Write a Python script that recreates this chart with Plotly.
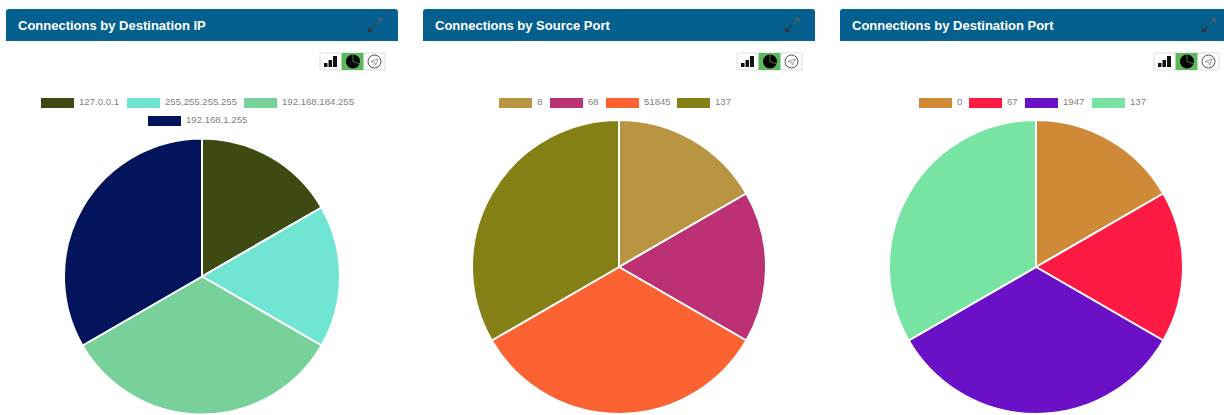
import plotly.graph_objects as go

W, H = 1224, 415

# Panel titles and slice data
titles = ["Connections by Destination IP", "Connections by Source Port", "Connections by Destination Port"]
labels_dst_ip = ["127.0.0.1", "255.255.255.255", "192.168.184.255", "192.168.1.255"]
labels_src_port = ["8", "68", "51845", "137"]
labels_dst_port = ["0", "67", "1947", "137"]
values_dst_ip = [1, 1, 2, 2]
values_src_port = [1, 1, 2, 2]
values_dst_port = [1, 1, 2, 2]
colors_dst_ip = ["#3d4a12", "#70e5d3", "#78d199", "#04145c"]
colors_src_port = ["#b99541", "#bc3074", "#fd6232", "#858016"]
colors_dst_port = ["#cf8a37", "#ff1a44", "#6a10c7", "#77e4a3"]

# Panel geometry in pixels
panels = [
    dict(left=6, right=398, cx=202, cy=276.5, r=138, tool=320,
         swatches=[(41, 98), (127, 98), (244, 98), (148, 116)]),
    dict(left=423, right=815, cx=619, cy=267, r=147, tool=737,
         swatches=[(499, 98), (550, 98), (606, 98), (677, 98)]),
    dict(left=840, right=1230, cx=1036, cy=267, r=147, tool=1154,
         swatches=[(919, 98), (969, 98), (1025, 98), (1092, 98)]),
]
series = [
    (labels_dst_ip, values_dst_ip, colors_dst_ip),
    (labels_src_port, values_src_port, colors_src_port),
    (labels_dst_port, values_dst_port, colors_dst_port),
]


def px(x):
    return x / W


def py(y):
    return 1 - y / H


def pt(x, y):
    return f"{px(x):.5f},{py(y):.5f}"


def rect(x0, y0, x1, y1, fill, line=None, width=0):
    return dict(type="rect", xref="paper", yref="paper", layer="below",
                x0=px(x0), x1=px(x1), y0=py(y1), y1=py(y0),
                fillcolor=fill, line=dict(color=line or fill, width=width))


def circle(cx, cy, r, fill, line=None, width=0):
    return dict(type="circle", xref="paper", yref="paper", layer="above",
                x0=px(cx - r), x1=px(cx + r), y0=py(cy + r), y1=py(cy - r),
                fillcolor=fill, line=dict(color=line or fill, width=width))


def path(points, fill="rgba(0,0,0,0)", line="#000", width=1, close=False):
    d = "M " + " L ".join(pt(x, y) for x, y in points)
    if close:
        d += " Z"
    return dict(type="path", xref="paper", yref="paper", layer="above", path=d,
                fillcolor=fill, line=dict(color=line, width=width))


def header(x0, y0, x1, y1, radius, fill):
    # Bar with rounded top corners
    d = (f"M {pt(x0, y1)} L {pt(x0, y0 + radius)} Q {pt(x0, y0)} {pt(x0 + radius, y0)} "
         f"L {pt(x1 - radius, y0)} Q {pt(x1, y0)} {pt(x1, y0 + radius)} L {pt(x1, y1)} Z")
    return dict(type="path", xref="paper", yref="paper", layer="below", path=d,
                fillcolor=fill, line=dict(color=fill, width=0))


fig = go.Figure()
shapes, notes = [], []

for title, panel, (labels, values, colors) in zip(titles, panels, series):
    cx, cy, r = panel["cx"], panel["cy"], panel["r"]
    fig.add_trace(go.Pie(
        labels=labels, values=values, sort=False, direction="clockwise", rotation=0,
        marker=dict(colors=colors, line=dict(color="#ffffff", width=2)),
        textinfo="none", hoverinfo="label+value", showlegend=False, automargin=False,
        domain=dict(x=[px(cx - r), px(cx + r)], y=[max(py(cy + r), 0), py(cy - r)]),
    ))

    # Header bar with title and expand arrows
    left, right = panel["left"], panel["right"]
    shapes.append(header(left, 9, right, 41, 3, "#05608f"))
    notes.append(dict(text=f"<b>{title}</b>", x=px(left + 11), y=py(25.5), xref="paper", yref="paper",
                      xanchor="left", yanchor="middle", showarrow=False, borderpad=0,
                      font=dict(family="Liberation Sans", size=13, color="#ffffff")))
    ax = left + 362
    shapes.append(path([(ax + 1, 31), (ax + 7, 25)], line="#2b3a44", width=1.5))
    shapes.append(path([(ax, 32), (ax + 5, 32), (ax, 27)], fill="#2b3a44", line="#2b3a44", width=0.5, close=True))
    shapes.append(path([(ax + 8, 24), (ax + 13, 19)], line="#45606f", width=1.5))
    shapes.append(path([(ax + 14, 18), (ax + 9, 18), (ax + 14, 23)], fill="#45606f", line="#45606f", width=0.5, close=True))

    # Chart-type button group
    t = panel["tool"]
    shapes.append(rect(t, 53, t + 65, 70, "#ffffff", "#dddddd", 1))
    shapes.append(rect(t + 21.5, 53, t + 43.5, 70, "#5cb85c"))
    shapes.append(rect(t + 4, 63, t + 7.5, 67, "#111111"))
    shapes.append(rect(t + 8.5, 60, t + 12, 67, "#111111"))
    shapes.append(rect(t + 13, 56, t + 17, 67, "#111111"))
    shapes.append(circle(t + 33, 61.5, 7, "#000000"))
    shapes.append(path([(t + 33, 61.5), (t + 33, 54)], line="#5cb85c", width=0.7))
    shapes.append(path([(t + 33, 61.5), (t + 40, 64)], line="#5cb85c", width=0.7))
    shapes.append(circle(t + 54.5, 61.5, 6.5, "#ffffff", "#555555", 1))
    shapes.append(path([(t + 51, 61.5), (t + 58, 59), (t + 55.5, 65), (t + 54.5, 62.5)],
                       fill="#ffffff", line="#777777", width=0.7, close=True))

    # Legend entries
    for (sx, sy), label, color in zip(panel["swatches"], labels, colors):
        shapes.append(rect(sx, sy, sx + 33, sy + 10, color))
        notes.append(dict(text=label, x=px(sx + 37), y=py(sy + 3.8), xref="paper", yref="paper",
                          xanchor="left", yanchor="middle", showarrow=False, borderpad=0,
                          font=dict(family="Liberation Sans", size=9.6, color="#7f7f7f")))

fig.update_layout(width=W, height=H, margin=dict(l=0, r=0, t=0, b=0),
                  paper_bgcolor="#ffffff", plot_bgcolor="#ffffff",
                  shapes=shapes, annotations=notes)
fig.write_html("out.html", config=dict(displayModeBar=False))
